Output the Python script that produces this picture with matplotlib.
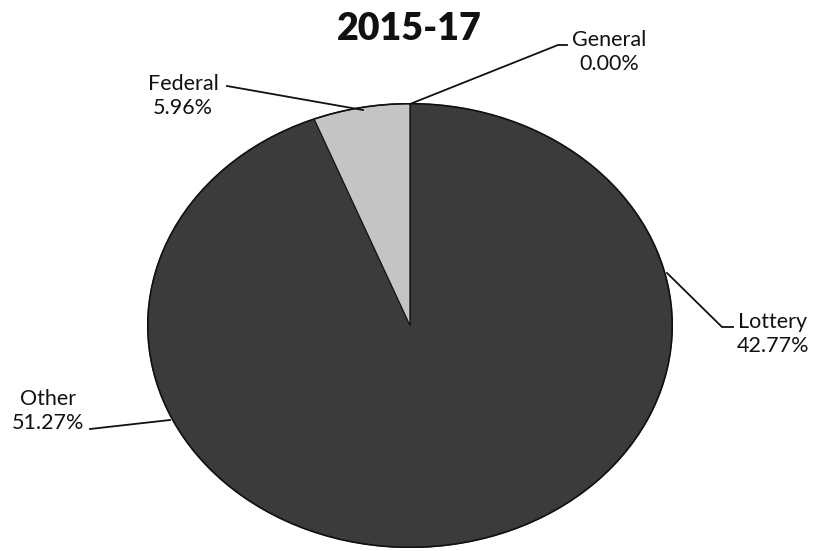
import numpy as np
import matplotlib
matplotlib.use("Agg")
import matplotlib.pyplot as plt
from matplotlib.patches import Ellipse

title = "2015-17"
categories = ["General", "Lottery", "Other", "Federal"]
values = [0.00, 42.77, 51.27, 5.96]
slice_colors = ["#c4c4c4", "#3b3b3b", "#3b3b3b", "#c4c4c4"]

W, H = 816, 551
fig = plt.figure(figsize=(W / 100, H / 100), dpi=100)
fig.patch.set_facecolor("white")

# pie bounding box in pixels (left, right, top, bottom)
pl, pr, pt, pb = 147, 673, 103, 548
ax = fig.add_axes([pl / W, 1 - pb / H, (pr - pl) / W, (pb - pt) / H])
wedges, _ = ax.pie(values, colors=slice_colors, startangle=90, counterclock=False,
                   radius=1.0, wedgeprops=dict(linewidth=0.9))
for w, c, cat in zip(wedges, slice_colors, categories):
    if cat in ("Lottery", "Other"):
        w.set_edgecolor(c)
    else:
        w.set_edgecolor("#111111")
        w.set_zorder(3)
ax.add_patch(Ellipse((0, 0), 2, 2, fill=False, edgecolor="#111111", linewidth=1.2, zorder=4))
ax.set_xlim(-1.003, 1.003)
ax.set_ylim(-1.003, 1.003)
ax.set_aspect("auto")
ax.axis("off")

font = "Lato"
fig.text(409 / W, 1 - 29 / H, title, ha="center", va="center", fontsize=27,
         fontweight="heavy", family=font, color="#111111")

label_info = {
    "General": dict(text_xy=(609, 52), pts=[(567, 45), (558, 45)]),
    "Lottery": dict(text_xy=(773, 334), pts=[(733, 327), (722, 327)]),
    "Other": dict(text_xy=(48, 411), pts=[(90, 429)]),
    "Federal": dict(text_xy=(183, 96), pts=[(227, 86)]),
}
attach = {
    "General": (410, 104),
    "Lottery": (667, 273),
    "Other": (170, 420),
    "Federal": (363, 110),
}

for i, cat in enumerate(categories):
    info = label_info[cat]
    tx, ty = info["text_xy"]
    fig.text(tx / W, 1 - ty / H, f"{cat}\n{values[i]:.2f}%", ha="center", va="center",
             fontsize=15.5, family=font, linespacing=1.2, color="#111111")
    pts = info["pts"] + [attach[cat]]
    xs = [p[0] / W for p in pts]
    ys = [1 - p[1] / H for p in pts]
    fig.add_artist(plt.Line2D(xs, ys, color="#111111", linewidth=1.3))

fig.savefig("out.png", dpi=100, facecolor="white")
